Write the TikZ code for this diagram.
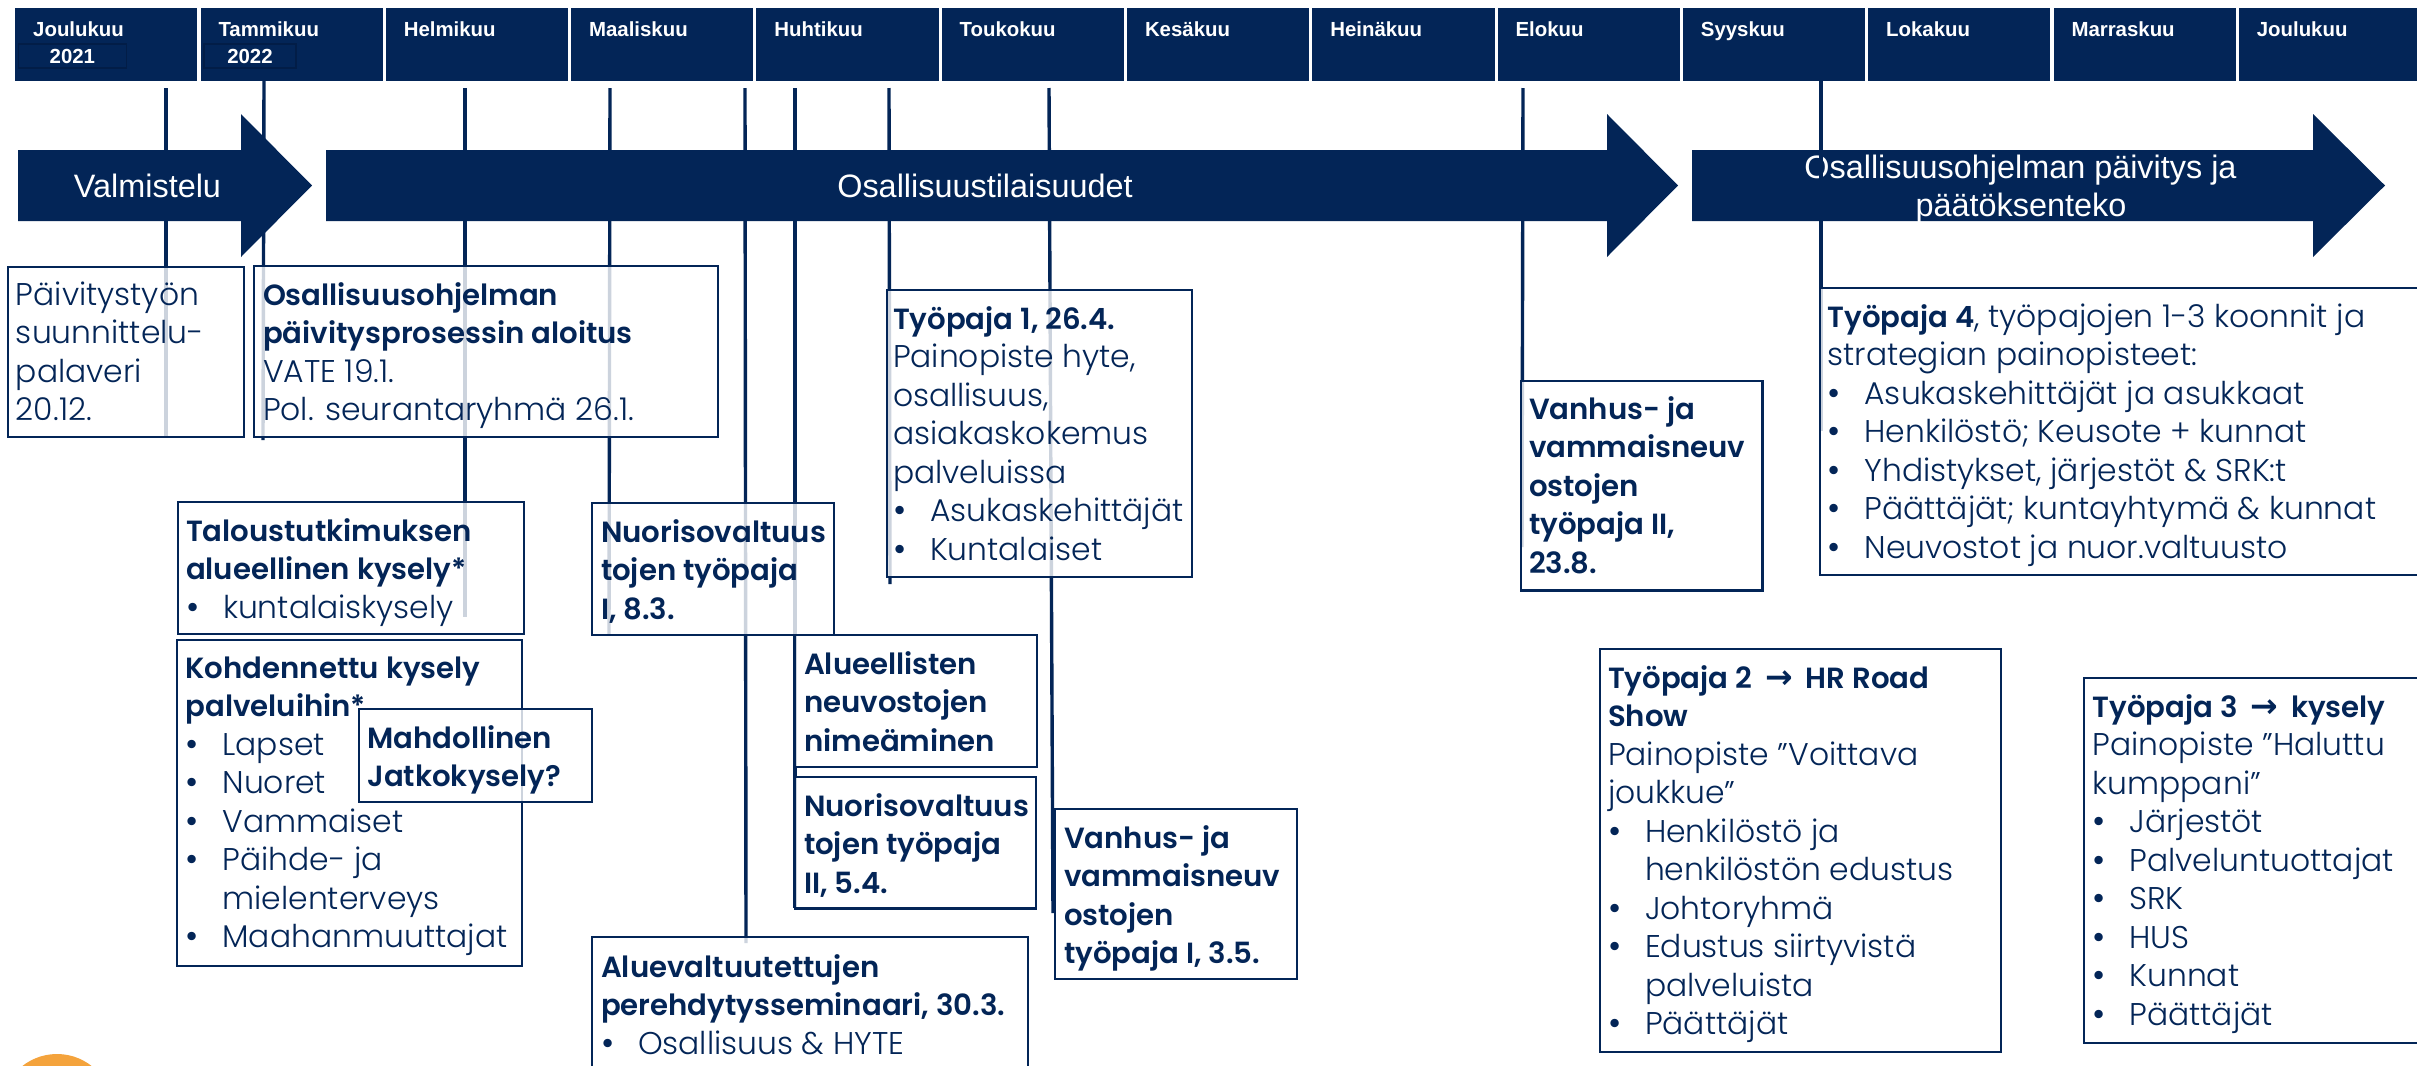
\documentclass[tikz,border=0pt]{standalone}
\usepackage{fontspec}
\setmainfont{Poppins}[UprightFont=* Light,BoldFont=* SemiBold]
\newfontfamily\uifont{Liberation Sans}
\newfontfamily\arrowfont{DejaVu Sans}
\definecolor{navy}{HTML}{032557}
\definecolor{navyd}{HTML}{021D47}
\definecolor{sun}{HTML}{F4A33C}
\newdimen\pxu \pxu=0.5pt
\newdimen\txo \newdimen\bw \newdimen\bh \newdimen\bt
\newcommand\boldface[1]{{\fontsize{14.6}{19.25}\selectfont\bfseries #1}}
\newcommand\lnn[1]{\hbox{\kern\txo\smash{#1}}}
\newcommand\bu[1]{\lnn{\makebox[37\pxu][l]{\fontsize{18}{19.25}\selectfont\raisebox{-0.6pt}{\textbullet}}#1}}
\newcommand\bn[1]{\lnn{\kern37\pxu #1}}
\newcommand\hd[1]{\lnn{\boldface{#1}}}
\newcommand\arw{\kern3pt{\arrowfont\bfseries\fontsize{16.5}{19}\selectfont →}\kern3pt}
\newcommand\bx[9][boxs]{%
  \pgfmathsetlength{\bw}{(#5-#3)*0.5pt}%
  \pgfmathsetlength{\bh}{(#6-#4)*0.5pt}%
  \pgfmathsetlength{\bt}{(#8-#4)*0.5pt}%
  \pgfmathsetlength{\txo}{(#7-#3)*0.5pt}%
  \node[#1,anchor=north west] (#2) at (#3,#4) {\vbox to\bh{\baselineskip=19.25pt\hrule width\bw height0pt depth0pt\kern\bt\relax #9\vss}};}
\tikzset{
  boxs/.style={draw=navy,line width=1.25pt,fill=white,fill opacity=0.8,draw opacity=1,text opacity=1,
    inner sep=0pt,outer sep=0pt,text=navy,font=\fontsize{15.7}{19.25}\selectfont},
  mon/.style={fill=navy,text=white,inner sep=0pt,outer sep=0pt,font=\uifont\bfseries\fontsize{10.2}{12}\selectfont},
  yr/.style={draw=navyd,line width=0.8pt,fill=navy,text=white,inner sep=0pt,outer sep=0pt,
    font=\uifont\bfseries\fontsize{10.2}{12}\selectfont},
  tick/.style={draw=navy,line width=1.7pt},
  bigarrow/.style={fill=navy,draw=none},
  arrowtext/.style={text=white,inner sep=0pt,outer sep=0pt,anchor=base,font=\uifont\fontsize{16.2}{19}\selectfont},
}
\begin{document}
\begin{tikzpicture}[x=0.5pt,y=-0.5pt]
\useasboundingbox (0,0) rectangle (2417,1066);
\clip (0,0) rectangle (2417,1066);
\fill[white] (0,0) rectangle (2417,1066);
\fill[sun] (57,1110) circle (56);
% month bar
\foreach \i/\m in {0/Joulukuu,1/Tammikuu,2/Helmikuu,3/Maaliskuu,4/Huhtikuu,5/Toukokuu,6/Kesäkuu,7/Heinäkuu,8/Elokuu,9/Syyskuu,10/Lokakuu,11/Marraskuu,12/Joulukuu}{
  \pgfmathsetmacro\mx{15.2+185.3*\i}
  \pgfmathsetmacro\mxe{\mx+182.2}
  \pgfmathsetmacro\mtx{\mx+18}
  \bx[mon]{m\i}{\mx}{8}{\mxe}{81}{\mtx}{36.7}{\lnn{\m}}
}
\node[yr,minimum width=54pt,minimum height=12pt,anchor=north west] (y21) at (18.4,44) {2021};
\node[yr,minimum width=46pt,minimum height=12pt,anchor=north west] (y22) at (204,44) {2022};
% timeline ticks (behind arrows)
\coordinate (t1a) at (166,88);  \coordinate (t1b) at (166,437);
\coordinate (t2a) at (264,81);  \coordinate (t2b) at (263,440);
\coordinate (t3a) at (465,88);  \coordinate (t3b) at (465,617);
\coordinate (t4a) at (610,88);  \coordinate (t4b) at (609,634);
\coordinate (t5a) at (745,88);  \coordinate (t5b) at (746,943);
\coordinate (t6a) at (795,88);  \coordinate (t6b) at (795,908);
\coordinate (t7a) at (889,88);  \coordinate (t7b) at (890,584);
\coordinate (t8a) at (1049,88); \coordinate (t8b) at (1053,913);
\coordinate (t9a) at (1523,88); \coordinate (t9b) at (1522,547);
\coordinate (t10a) at (1821,81); \coordinate (t10b) at (1821,431);
\foreach \k in {1,...,9}{\draw[tick] (t\k a) -- (t\k b);}
% arrows
\fill[bigarrow] (18,150) -- (241,150) -- (241,114) -- (312,185.5) -- (241,257) -- (241,221) -- (18,221) -- cycle;
\fill[bigarrow] (326,150) -- (1607,150) -- (1607,114) -- (1678,185.5) -- (1607,257) -- (1607,221) -- (326,221) -- cycle;
\fill[bigarrow] (1692,150) -- (2313,150) -- (2313,114) -- (2385,185.5) -- (2313,257) -- (2313,221) -- (1692,221) -- cycle;
\node[arrowtext] (a1) at (147.5,197) {Valmistelu};
\node[arrowtext] (a2) at (985,197) {Osallisuustilaisuudet};
\node[arrowtext] (a3) at (2020.5,178) {Osallisuusohjelman päivitys ja};
\node[arrowtext] (a4) at (2021,216.7) {päätöksenteko};
\draw[tick] (t10a) -- (t10b);
% boxes
\bx{b1}{8}{267}{244}{437}{16}{305}{\lnn{Päivitystyön}\lnn{suunnittelu-}\lnn{palaveri}\lnn{20.12.}}
\bx{b2}{254}{266}{718}{437}{263}{305}{\hd{Osallisuusohjelman}\hd{päivitysprosessin aloitus}\lnn{VATE 19.1.}\lnn{Pol. seurantaryhmä 26.1.}}
\bx{b3}{178}{502}{524}{634}{186}{541}{\hd{Taloustutkimuksen}\hd{alueellinen kysely*}\bu{kuntalaiskysely}}
\bx{b4}{177}{640}{522}{966}{185.5}{678}{\hd{Kohdennettu kysely}\hd{palveluihin*}\bu{Lapset}\bu{Nuoret}\bu{Vammaiset}\bu{Päihde- ja}\bn{mielenterveys}\bu{Maahanmuuttajat}}
\bx{b5}{359}{709}{592}{802}{367.5}{748}{\hd{Mahdollinen}\hd{Jatkokysely?}}
\bx{b6}{592}{503}{834}{635}{601}{542}{\hd{Nuorisovaltuus}\hd{tojen työpaja}\hd{I, 8.3.}}
\bx{b7}{795}{635}{1037}{767}{804}{674}{\hd{Alueellisten}\hd{neuvostojen}\hd{nimeäminen}}
\bx{b8}{795}{777}{1036}{908.6}{804}{816}{\hd{Nuorisovaltuus}\hd{tojen työpaja}\hd{II, 5.4.}}
\bx{b9}{592}{937}{1028}{1090}{601}{977}{\hd{Aluevaltuutettujen}\hd{perehdytysseminaari, 30.3.}\bu{Osallisuus \& HYTE}}
\bx{b10}{1055}{809}{1297}{979}{1064}{848}{\hd{Vanhus- ja}\hd{vammaisneuv}\hd{ostojen}\hd{työpaja I, 3.5.}}
\bx{b11}{887}{290}{1192}{577}{893}{329}{\hd{Työpaja 1, 26.4.}\lnn{Painopiste hyte,}\lnn{osallisuus,}\lnn{asiakaskokemus}\lnn{palveluissa}\bu{Asukaskehittäjät}\bu{Kuntalaiset}}
\bx{b12}{1521}{381}{1762.6}{590.7}{1529}{419}{\hd{Vanhus- ja}\hd{vammaisneuv}\hd{ostojen}\hd{työpaja II,}\hd{23.8.}}
\bx{b13}{1820}{288}{2440}{575}{1827.5}{327}{\lnn{\boldface{Työpaja 4}, työpajojen 1-3 koonnit ja}\lnn{strategian painopisteet:}\bu{Asukaskehittäjät ja asukkaat}\bu{Henkilöstö; Keusote + kunnat}\bu{Yhdistykset, järjestöt \& SRK:t}\bu{Päättäjät; kuntayhtymä \& kunnat}\bu{Neuvostot ja nuor.valtuusto}}
\bx{b14}{1600}{649}{2001}{1052}{1608}{688}{\hd{Työpaja 2 \arw{} HR Road}\hd{Show}\lnn{Painopiste ”Voittava}\lnn{joukkue”}\bu{Henkilöstö ja}\bn{henkilöstön edustus}\bu{Johtoryhmä}\bu{Edustus siirtyvistä}\bn{palveluista}\bu{Päättäjät}}
\bx{b15}{2084}{678}{2440}{1043}{2092.5}{717}{\hd{Työpaja 3 \arw{} kysely}\lnn{Painopiste ”Haluttu}\lnn{kumppani”}\bu{Järjestöt}\bu{Palveluntuottajat}\bu{SRK}\bu{HUS}\bu{Kunnat}\bu{Päättäjät}}
\end{tikzpicture}
\end{document}
